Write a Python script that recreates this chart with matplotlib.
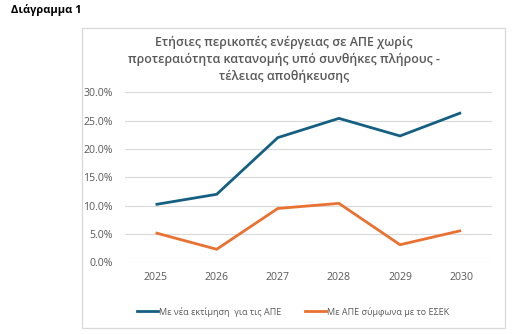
import matplotlib
matplotlib.use("Agg")
import matplotlib.pyplot as plt
from matplotlib.patches import Rectangle
from matplotlib.lines import Line2D
from matplotlib.ticker import PercentFormatter

years = ["2025", "2026", "2027", "2028", "2029", "2030"]
new_estimate = [10.2, 12.0, 22.0, 25.4, 22.3, 26.4]
esek = [5.2, 2.3, 9.5, 10.4, 3.1, 5.6]
yticks = [0, 5, 10, 15, 20, 25, 30]

title = "Ετήσιες περικοπές ενέργειας σε ΑΠΕ χωρίς\nπροτεραιότητα κατανομής υπό συνθήκες πλήρους -\nτέλειας αποθήκευσης"
label_new = "Με νέα εκτίμηση  για τις ΑΠΕ"
label_esek = "Με ΑΠΕ σύμφωνα με το ΕΣΕΚ"

plt.rcParams['font.family'] = ['Open Sans', 'DejaVu Sans']
W, H = 521, 334
fig = plt.figure(figsize=(W / 100, H / 100), dpi=100)
fig.patch.set_facecolor('white')

# chart border
fig.patches.append(Rectangle((81.5 / W, 1 - 328 / H), (505 - 81.5) / W, (328 - 27.5) / H,
                             transform=fig.transFigure, fill=False, edgecolor='#D9D9D9', lw=0.9))

fig.text(11 / W, 1 - 10.5 / H, "Διάγραμμα 1", fontsize=8.0, fontweight='bold', color='#000000',
         ha='left', va='center')
fig.text(284 / W, 1 - 59 / H, title, fontsize=8.9, fontweight='semibold', color='#595959',
         ha='center', va='center', linespacing=1.38)

ax = fig.add_axes([125 / W, 1 - 262.3 / H, (491.7 - 125) / W, (262.3 - 92.3) / H])
x = list(range(len(years)))
blue = '#156082'
orange = '#E97132'
ax.plot(x, new_estimate, color=blue, lw=2.0, solid_capstyle='butt', solid_joinstyle='miter')
ax.plot(x, esek, color=orange, lw=2.0, solid_capstyle='butt', solid_joinstyle='miter')
ax.set_xlim(-0.5, len(years) - 0.5)
ax.set_ylim(0, 30)
ax.set_yticks(yticks)
ax.yaxis.set_major_formatter(PercentFormatter(decimals=1))
ax.set_xticks(x)
ax.set_xticklabels(years)
ax.grid(axis='y', color='#D9D9D9', lw=0.8)
ax.set_axisbelow(True)
for s in ax.spines.values():
    s.set_visible(False)
ax.tick_params(axis='both', length=0, labelsize=7.6, colors='#595959')
ax.tick_params(axis='y', pad=9)
ax.tick_params(axis='x', pad=7)

# legend
handles = [Line2D([], [], color=blue, lw=2.0), Line2D([], [], color=orange, lw=2.0)]
fig.legend(handles, [label_new, label_esek], loc='center', bbox_to_anchor=(293 / W, 1 - 311.7 / H),
           ncol=2, frameon=False, fontsize=6.5, labelcolor='#595959', handlelength=2.4,
           handletextpad=0.1, columnspacing=2.6)

fig.savefig("out.png", dpi=100)
